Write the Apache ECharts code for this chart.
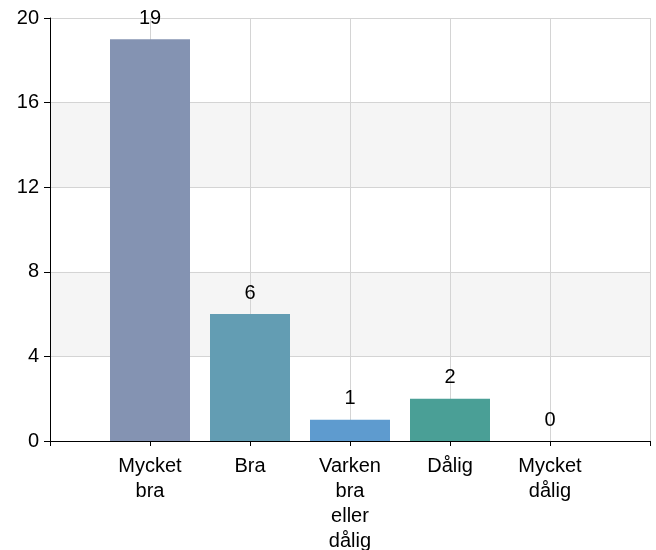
<!DOCTYPE html>
<html>
<head>
<meta charset="utf-8">
<script src="https://cdn.jsdelivr.net/npm/echarts@6/dist/echarts.min.js"></script>
<style>
  html, body { margin: 0; padding: 0; background: #fff; }
  #chart { width: 656px; height: 550px; }
</style>
</head>
<body>
<div id="chart"></div>
<script>
// categories (padded with empty slots so bars sit between the frame edges)
const categories = ["", "Mycket\nbra", "Bra", "Varken\nbra\neller\ndålig", "Dålig", "Mycket\ndålig", ""];
const values = [null, 19, 6, 1, 2, 0, null];
const barColors = [null, "#8493b2", "#639db3", "#5e9bcf", "#4a9f96", "#9aa8c4", null];
const yTicks = { min: 0, max: 20, interval: 4 };

const chart = echarts.init(document.getElementById("chart"));

const option = {
  animation: false,
  grid: {
    left: 50,
    right: 6,
    top: 18,
    bottom: 109,
    containLabel: false,
    outerBoundsMode: "none",
  },
  xAxis: {
    type: "category",
    data: categories,
    boundaryGap: false,
    axisLine: { lineStyle: { color: "#000", width: 1 } },
    axisTick: { lineStyle: { color: "#000" }, length: 5 },
    axisLabel: {
      color: "#000",
      fontFamily: "Liberation Sans",
      fontSize: 20,
      lineHeight: 25,
      margin: 13,
      interval: 0,
    },
    splitLine: { show: true, lineStyle: { color: "#d4d4d4" } },
  },
  yAxis: {
    type: "value",
    min: yTicks.min,
    max: yTicks.max,
    interval: yTicks.interval,
    axisLine: { show: true, lineStyle: { color: "#000" } },
    axisTick: { show: true, length: 6, lineStyle: { color: "#000" } },
    axisLabel: {
      color: "#000",
      fontFamily: "Liberation Sans",
      fontSize: 20,
      margin: 11,
    },
    splitLine: { show: true, lineStyle: { color: "#d4d4d4" } },
    splitArea: { show: true, areaStyle: { color: ["#ffffff", "#f5f5f5"] } },
  },
  series: [
    {
      type: "bar",
      barWidth: 80,
      data: values.map((v, i) => ({
        value: v,
        itemStyle: { color: barColors[i] },
      })),
      label: {
        show: true,
        position: "top",
        distance: 11,
        color: "#000",
        fontFamily: "Liberation Sans",
        fontSize: 20,
      },
    },
  ],
};

chart.setOption(option);
</script>
</body>
</html>
